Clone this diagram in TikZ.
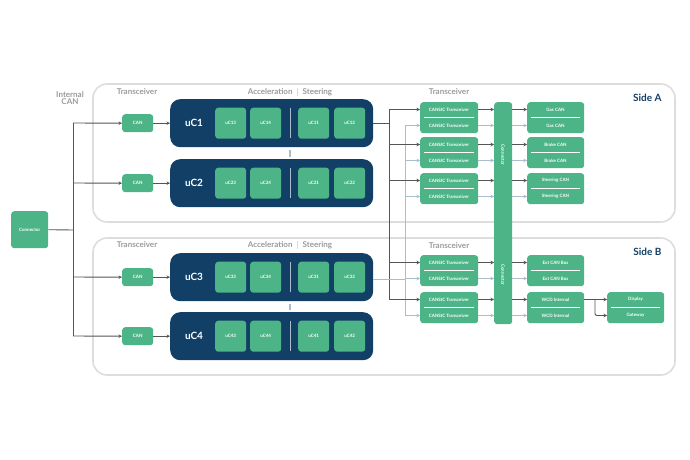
\documentclass[tikz,border=0pt]{standalone}
\usepackage{fontspec}
\setmainfont{Lato}
\usetikzlibrary{arrows.meta}
\definecolor{G}{HTML}{4DB487}
\definecolor{N}{HTML}{123F66}
\definecolor{GT}{HTML}{9A9A9A}
\definecolor{DL}{HTML}{555555}
\definecolor{LL}{HTML}{A9BDCB}
\definecolor{BX}{HTML}{DDDDDD}
\begin{document}
\begin{tikzpicture}[x=1pt,y=-1pt,
  side/.style={draw=BX,line width=1.6pt,rounded corners=14pt},
  hdr/.style={text=GT,font=\fontsize{8}{9}\selectfont\bfseries,align=center},
  grn/.style={fill=G,rounded corners=3pt,text=white,inner sep=0pt,anchor=north west,font=\fontsize{4.5}{5}\selectfont\bfseries},
  navy/.style={fill=N,rounded corners=10pt,inner sep=0pt,anchor=north west,minimum width=203pt,minimum height=48pt},
  wt/.style={text=white,font=\fontsize{4.5}{5}\selectfont\bfseries,inner sep=0pt},
  dk/.style={draw=DL,line width=0.9pt,-{Stealth[length=3.5pt,width=3.5pt]}},
  dkl/.style={draw=DL,line width=0.9pt,rounded corners=2pt},
  lt/.style={draw=LL,line width=0.9pt,-{Stealth[length=3.5pt,width=3.5pt]}},
  ltl/.style={draw=LL,line width=0.9pt,rounded corners=2pt}]
\useasboundingbox (0,0) rectangle (690,460);
\draw[side] (93,84) rectangle (675,222);
\draw[side] (93,238) rectangle (675,375);
\node[hdr] (ic) at (70,98) {Internal\\[-2pt]CAN};
\node[hdr] (trA) at (137,92) {Transceiver};
\node[hdr] (trB) at (137,245) {Transceiver};
\node[hdr] (acA) at (290,92) {Acceleration \ $|$ \ Steering};
\node[hdr] (acB) at (290,245) {Acceleration \ $|$ \ Steering};
\node[hdr] (trA2) at (449,92) {Transceiver};
\node[hdr] (trB2) at (449,246) {Transceiver};
\node[text=N,font=\fontsize{10}{11}\selectfont\bfseries,anchor=east] (sa) at (665,98) {Side A};
\node[text=N,font=\fontsize{10}{11}\selectfont\bfseries,anchor=east] (sb) at (665,252) {Side B};
\node[grn,minimum width=37pt,minimum height=37pt,font=\fontsize{4.5}{5}\selectfont\bfseries] (con) at (11,211) {Connector};
\coordinate (br) at (73,230);
\draw[dkl] (con.east) -- (br);
\foreach \i/\y in {1/99,2/159,3/253,4/312}{
  \pgfmathsetmacro{\cy}{\y+24}
  \node[navy] (uc\i) at (170,\y) {};
  \node[text=white,font=\fontsize{10}{11}\selectfont\bfseries] (ucl\i) at (194,\cy) {uC\i};
  \node[grn,minimum width=31pt,minimum height=18pt] (can\i) at (122,\cy-9) {CAN};
  \draw[dkl] (br) -- (73,\cy);
  \draw[dk] (73,\cy) -- (can\i.west);
  \draw[dk] (can\i.east) -- (uc\i.west |- can\i.east);
  \foreach \j/\x/\n in {a/215/3,b/250/4,c/298/1,d/334/2}{
    \node[grn,minimum width=31pt,minimum height=31pt] (s\i\j) at (\x,\y+8.5) {uC\i\n};
  }
  \draw[draw=LL,line width=0.8pt] (290,\y+9) -- (290,\y+39);
}
\draw[draw=LL,line width=1.2pt] (290,150) -- (290,157);
\draw[draw=LL,line width=1.2pt] (290,304) -- (290,310);
% transceivers and destinations
\node[grn,minimum width=18pt,minimum height=222pt] (cn) at (494,102) {};
\node[wt,rotate=-90] (cnt1) at (503,155) {Connector};
\node[wt,rotate=-90] (cnt2) at (503,275) {Connector};
\coordinate (dv) at (389,123);
\draw[dkl] (uc1.east |- dv) -- (dv);
\draw[dkl] (389,109) -- (389,300);
\coordinate (lv) at (405,279);
\draw[ltl] (uc3.east |- lv) -- (lv);
\draw[ltl] (405,125) -- (405,316);
\foreach \k/\y/\lab in {1/102/Gas CAN,2/137/Brake CAN,3/173/Steering CAN,4/255/Ext CAN Bus,5/292/WCD Internal}{
  \node[grn,minimum width=58pt,minimum height=31pt] (tr\k) at (420,\y) {};
  \draw[white,line width=0.5pt] (424,\y+15.5) -- (474,\y+15.5);
  \node[wt] (tra\k) at (449,\y+7.5) {CANSIC Transceiver};
  \node[wt] (trb\k) at (449,\y+23.5) {CANSIC Transceiver};
  \node[grn,minimum width=57pt,minimum height=31pt] (d\k) at (527,\y) {};
  \draw[white,line width=0.5pt] (531,\y+15.5) -- (580,\y+15.5);
  \node[wt] (da\k) at (555.5,\y+7.5) {\lab};
  \node[wt] (db\k) at (555.5,\y+23.5) {\lab};
  \draw[dk] (389,\y+7.5) -- (tr\k.west |- tra\k);
  \draw[lt] (405,\y+23.5) -- (tr\k.west |- trb\k);
  \draw[dk] (tr\k.east |- tra\k) -- (cn.west |- tra\k);
  \draw[lt] (tr\k.east |- trb\k) -- (cn.west |- trb\k);
  \draw[dk] (cn.east |- da\k) -- (d\k.west |- da\k);
  \draw[lt] (cn.east |- db\k) -- (d\k.west |- db\k);
}
\node[grn,minimum width=57pt,minimum height=31pt] (dg) at (607,292) {};
\draw[white,line width=0.5pt] (611,307.5) -- (660,307.5);
\node[wt] (dsp) at (635.5,299.5) {Display};
\node[wt] (gw) at (635.5,315.5) {Gateway};
\draw[dk] (d5.east |- da5) -- (dg.west |- dsp);
\coordinate (wk) at (595,299.5);
\draw[dk,rounded corners=2pt] (wk) -- (595,315.5) -- (dg.west |- gw);
\end{tikzpicture}
\end{document}
